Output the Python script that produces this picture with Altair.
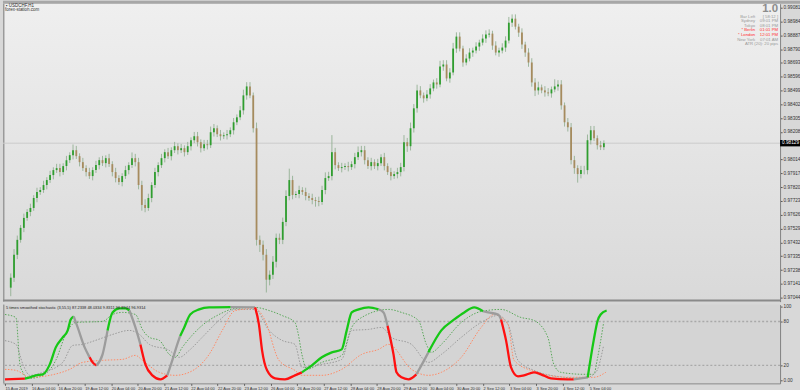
import json
import altair as alt
import pandas as pd

# ---------------- price data (2-hour candles, USDCHF) ----------------
first_open = 0.97114
close = [
    0.97184, 0.97345, 0.97450, 0.97534, 0.97604, 0.97646, 0.97674, 0.97744, 0.97786, 0.97800,
    0.97835, 0.97870, 0.97905, 0.97940, 0.97954, 0.97926, 0.97968, 0.98010, 0.98045, 0.98080,
    0.98038, 0.97996, 0.97954, 0.97926, 0.97898, 0.97940, 0.97975, 0.98010, 0.97989, 0.98024,
    0.97982, 0.97926, 0.97884, 0.97856, 0.97898, 0.97940, 0.97975, 0.98024, 0.97996, 0.97835,
    0.97695, 0.97674, 0.97744, 0.97835, 0.97926, 0.97975, 0.98024, 0.98066, 0.98038, 0.98080,
    0.98108, 0.98080, 0.98094, 0.98066, 0.98108, 0.98150, 0.98178, 0.98136, 0.98094, 0.98122,
    0.98115, 0.98206, 0.98234, 0.98192, 0.98178, 0.98185, 0.98192, 0.98220, 0.98276, 0.98311,
    0.98360, 0.98465, 0.98528, 0.98465, 0.98234, 0.97450, 0.97415, 0.97345, 0.97170, 0.97205,
    0.97296, 0.97464, 0.97450, 0.97576, 0.97758, 0.97870, 0.97765, 0.97772, 0.97800, 0.97786,
    0.97758, 0.97744, 0.97730, 0.97723, 0.97716, 0.97800, 0.97884, 0.97898, 0.98066, 0.97975,
    0.97954, 0.97961, 0.97968, 0.97961, 0.97982, 0.98031, 0.98066, 0.98080, 0.98010, 0.97968,
    0.97996, 0.97968, 0.97989, 0.98031, 0.97968, 0.97926, 0.97898, 0.97912, 0.97926, 0.97961,
    0.98136, 0.98108, 0.98234, 0.98374, 0.98500, 0.98465, 0.98444, 0.98472, 0.98514, 0.98556,
    0.98542, 0.98668, 0.98682, 0.98584, 0.98626, 0.98794, 0.98878, 0.98794, 0.98696, 0.98724,
    0.98766, 0.98780, 0.98808, 0.98836, 0.98864, 0.98892, 0.98899, 0.98815, 0.98766, 0.98780,
    0.98801, 0.98850, 0.98976, 0.99004, 0.98948, 0.98906, 0.98822, 0.98766, 0.98696, 0.98556,
    0.98500, 0.98521, 0.98500, 0.98486, 0.98479, 0.98507, 0.98528, 0.98542, 0.98395, 0.98276,
    0.98241, 0.98010, 0.97954, 0.97912, 0.97940, 0.97940, 0.98150, 0.98220, 0.98164, 0.98115,
    0.98101, 0.98129,
]
upper_wick_pips = [
    3, 4, 3, 2, 3, 2, 3, 2, 3, 2,
    3, 2, 3, 2, 3, 3, 2, 3, 2, 4,
    3, 2, 3, 2, 3, 2, 3, 2, 3, 2,
    3, 2, 3, 2, 2, 3, 2, 4, 3, 3,
    3, 4, 3, 2, 3, 2, 3, 2, 3, 2,
    3, 2, 3, 2, 3, 2, 3, 3, 2, 3,
    3, 4, 3, 2, 3, 2, 3, 2, 3, 2,
    3, 4, 3, 3, 2, 4, 3, 3, 4, 3,
    4, 3, 3, 3, 4, 8, 3, 2, 3, 2,
    3, 2, 3, 2, 3, 3, 4, 3, 12, 3,
    2, 3, 2, 3, 2, 3, 4, 3, 3, 2,
    3, 2, 3, 2, 3, 2, 3, 2, 3, 3,
    5, 3, 4, 3, 4, 3, 2, 3, 3, 2,
    3, 4, 3, 3, 3, 4, 3, 3, 2, 3,
    3, 2, 3, 2, 3, 3, 3, 2, 3, 2,
    3, 3, 4, 3, 3, 2, 3, 2, 3, 3,
    3, 4, 2, 3, 3, 2, 5, 3, 3, 2,
    3, 3, 3, 2, 3, 3, 4, 3, 3, 2,
    3, 2,
]
lower_wick_pips = [
    6, 3, 3, 2, 3, 2, 3, 2, 3, 2,
    2, 3, 2, 3, 2, 3, 2, 3, 2, 3,
    2, 3, 2, 3, 2, 3, 2, 3, 2, 3,
    2, 3, 3, 2, 3, 2, 3, 2, 3, 3,
    4, 3, 2, 3, 2, 3, 2, 3, 2, 3,
    2, 3, 2, 3, 2, 3, 2, 3, 3, 2,
    3, 2, 3, 2, 3, 2, 3, 2, 3, 2,
    2, 3, 3, 2, 3, 4, 5, 4, 9, 4,
    3, 4, 3, 3, 3, 3, 3, 2, 3, 2,
    3, 2, 3, 4, 3, 2, 3, 2, 3, 3,
    2, 3, 2, 3, 2, 3, 2, 3, 3, 2,
    3, 2, 3, 2, 3, 2, 3, 2, 3, 3,
    3, 4, 3, 3, 3, 2, 3, 2, 3, 2,
    3, 2, 3, 2, 3, 2, 3, 2, 3, 2,
    2, 3, 2, 3, 2, 3, 2, 3, 2, 3,
    2, 3, 2, 3, 2, 3, 3, 3, 3, 3,
    4, 3, 2, 3, 2, 3, 2, 3, 3, 3,
    3, 3, 4, 6, 3, 3, 3, 3, 2, 3,
    2, 2,
]
price_ticks = [0.99081, 0.98984, 0.98887, 0.98790, 0.98693, 0.98596, 0.98499, 0.98402,
               0.98305, 0.98208, 0.98014, 0.97917, 0.97820, 0.97723, 0.97626,
               0.97529, 0.97432, 0.97335, 0.97238, 0.97141, 0.97044]
date_labels = ["15 Aug 2019", "16 Aug 04:00", "16 Aug 20:00", "19 Aug 12:00", "20 Aug 04:00",
               "20 Aug 20:00", "21 Aug 12:00", "22 Aug 04:00", "22 Aug 20:00", "23 Aug 12:00",
               "26 Aug 04:00", "26 Aug 20:00", "27 Aug 12:00", "28 Aug 04:00", "28 Aug 20:00",
               "29 Aug 12:00", "30 Aug 04:00", "30 Aug 20:00", "2 Sep 12:00", "3 Sep 04:00",
               "3 Sep 20:00", "4 Sep 12:00", "5 Sep 04:00"]

# ---------------- indicator data (H1 bar index, 0..100) ----------------
main_bar = [0, 12, 15, 18.6, 22.8, 27, 30.6, 34.8, 37.8, 39.6, 41.4, 43.8, 48, 51, 52.8, 55.2,
            58.8, 61.8, 64.8, 69, 72.6, 75, 78.6, 81.6, 84.6, 88.8, 93.6, 97.8, 100.8, 103.8,
            105.5, 108, 111.6, 117, 123, 136, 150.7, 153, 154.9, 157.9, 162.7, 168.7, 174.7,
            178.9, 184.9, 190.9, 196.9, 202.9, 205.9, 208.9, 213.1, 219.1, 225.1, 228.1, 230.5,
            234.1, 235.9, 238.9, 243.1, 247.9, 250.9, 255.1, 262.9, 270.7, 276.7, 282.7, 288,
            291.1, 297.1, 298.9, 301.9, 304.9, 309.1, 312.7, 318.7, 322.9, 328.9, 339.1, 342.7,
            351.1, 354.7, 357.1, 358.9, 362.5]
main_val = [1, 2, 3.7, 6.4, 7.8, 21.4, 44.6, 58.3, 67.8, 82.8, 86.9, 71.9, 44.6, 31, 24.1, 20,
            35, 67.8, 92.4, 97.8, 97.8, 95, 71.9, 48.7, 21.4, 6.4, 1, 6.4, 26.9, 48.7,
            60, 71.9, 89.6, 96.5, 99.2, 99.5, 99.2, 76, 40.5, 13.2, 2.3, 1, 6.4,
            10.5, 20, 31, 37.8, 41.9, 67.8, 92.4, 96.5, 99.2, 96.5, 92.4, 74,
            35, 10.5, 3.7, 1, 7.8, 20, 37.8, 67.8, 82.8, 92.4, 99.2, 94,
            92.4, 89.6, 82.8, 54.2, 17.3, 5, 6.4, 10.5, 7.8, 2.3, 1, 1,
            3.7, 54.2, 81.4, 89.6, 95]
main_state = list("rgggggggggnnnrrnnggggnnrrrrnnngggggnrrrrrrrgggggggggnnrrrrrnngggggnnnrrrrrrrrrnggggg")

gd_bar = [0, 6.6, 9, 10.8, 12.6, 15, 22.8, 30.6, 36.6, 42.6, 58.8, 64.8, 70.8, 78.6, 82.8, 87, 93,
          99, 102.6, 106.8, 118.8, 129, 138.7, 150.7, 159.1, 166.9, 174.7, 176.5, 178.9, 181.9,
          190.9, 202.9, 208.9, 214.9, 231.1, 238.9, 249.1, 253.9, 256.9, 262.9, 274.9, 286.9,
          298.9, 310.9, 318.7, 327.1, 330.7, 334.9, 348.7, 354.7, 357.1, 360.7]
gd_val = [89.6, 85.5, 21.4, 10.5, 3.7, 2.3, 6.4, 26.9, 62.3, 78.7, 80.1, 89.6, 92.4, 89.6, 69.2,
          58.3, 54.2, 35, 31, 44.6, 74.6, 89.6, 97.8, 99.2, 95, 88.2, 78.7, 65, 35, 14.6,
          24.1, 33.7, 71.9, 85.5, 96.5, 92.4, 81.4, 48.7, 37.8, 48.7, 78.7, 93.7,
          96.5, 85.5, 81.4, 58.3, 21.4, 10.5, 7.8, 7.8, 31, 78.7]
gy_bar = [0, 6.6, 10.8, 15, 22.8, 34.8, 40.8, 46.8, 54.6, 64.8, 75, 81, 87, 99, 105, 111, 118.8,
          129, 138.7, 150.7, 159.1, 166.9, 174.7, 178.9, 190.9, 202.9, 208.9, 219.1, 226.9, 232.9,
          244.9, 255.1, 262.9, 274.9, 286.9, 297.1, 303.1, 309.1, 318.7, 328.9, 348.7, 356, 360.7]
gy_val = [53.8, 48.7, 21.4, 6.4, 10.5, 24.1, 47.3, 48.7, 54.2, 62.3, 67.8, 62.3, 48.7, 40.5, 31,
          40.5, 58.3, 81.4, 96.5, 96.5, 67.8, 54.2, 48.7, 17.3, 21.4, 28.2, 67.8, 69.2, 71.9, 58.3,
          48.7, 24.1, 35, 58.3, 78.7, 88.2, 76, 26.9, 13.2, 6.4, 2.3, 10.5, 47.3]
od_bar = [0, 6.6, 15, 27, 39, 46.8, 58.8, 70.8, 78.6, 82.8, 93, 102.6, 111, 123, 130.9, 138.7,
          150.7, 156.7, 165.1, 174.7, 178.9, 190.9, 202.9, 214.9, 225.1, 231.1, 244.9, 255.1,
          262.9, 274.9, 286.9, 294.7, 303.1, 306.7, 318.7, 339.1, 354.7, 362]
od_val = [14.6, 13.2, 3.7, 6.4, 14.6, 24.1, 26.9, 28.2, 33.7, 26.9, 10.5, 6.4, 10.5, 35, 67.8, 95,
          97.8, 81.4, 26.9, 13.2, 6.4, 6.4, 14.6, 35, 41.9, 48.7, 14.6, 6.4,
          10.5, 31, 71.9, 89.6, 76, 26.9, 11.9, 3.7, 3.7, 10.5]
level_values = [20, 80]
indicator_title = "5 times smoothed stochastic (3,55,5) 87.2338 48.0334 9.8311 96.8944 96.9314"

# ---------------- styling ----------------
FONT = "Liberation Sans"
UP, DOWN, WICK = "#2f9e2f", "#a68b5e", "#8fae8f"
STATE_COL = {"g": "#16c816", "r": "#ff1010", "n": "#9c9c9c"}
W, H1, H2 = 780, 299, 79

# ---------------- build tables ----------------
opens = [first_open] + close[:-1]
rows = []
for k, c in enumerate(close):
    o = opens[k]
    rows.append({"bar": 2 * k + 0.5, "open": o, "close": c,
                 "high": max(o, c) + upper_wick_pips[k] * 0.0001,
                 "low": min(o, c) - lower_wick_pips[k] * 0.0001,
                 "col": UP if c >= o else DOWN})
candles = pd.DataFrame(rows)
last = pd.DataFrame({"p": [close[-1]], "lbl": [f"{close[-1]:.5f}"]})

mrows = []
seg = 0
for i, (b, v, s) in enumerate(zip(main_bar, main_val, main_state)):
    if i > 0 and s != main_state[i - 1]:
        mrows.append({"bar": b, "v": v, "seg": seg, "c": STATE_COL[main_state[i - 1]]})
        seg += 1
    mrows.append({"bar": b, "v": v, "seg": seg, "c": STATE_COL[s]})
mainline = pd.DataFrame(mrows)

drows = []
for name, col, bars, vals in [("green", "#5aa85a", gd_bar, gd_val),
                              ("gray", "#9a9a9a", gy_bar, gy_val),
                              ("orange", "#ff8a65", od_bar, od_val)]:
    for b, v in zip(bars, vals):
        drows.append({"s": name, "c": col, "bar": b, "v": v})
dots = pd.DataFrame(drows)
levels = pd.DataFrame({"v": level_values})
one = pd.DataFrame({"a": [0]})

# ---------------- scales / axes ----------------
xs = alt.Scale(domain=[-1.2, 467.0], nice=False, zero=False)
ys_main = alt.Scale(domain=[0.97016, 0.99109], nice=False, zero=False)
ys_ind = alt.Scale(domain=[-4.5, 103.1], nice=False, zero=False)

axis_style = dict(title=None, grid=False, labelFont=FONT, labelColor="#333333",
                  tickColor="#555555", tickSize=2, domainColor="#7a7a7a", labelOverlap=False)
yaxis_main = alt.Axis(orient="right", values=price_ticks, format=".5f", labelPadding=1,
                      labelFontSize=4.7, minExtent=20, maxExtent=20, **axis_style)
yaxis_ind = alt.Axis(orient="right", values=[0, 20, 80, 100], labelPadding=1, labelFontSize=4.7,
                     labelExpr="datum.value == 0 ? '0.00' : datum.label",
                     minExtent=20, maxExtent=20, **axis_style)
xaxis_ind = alt.Axis(orient="bottom", values=list(range(0, 16 * len(date_labels), 16)),
                     labelExpr=json.dumps(date_labels) + "[round(datum.value / 16)]",
                     labelAlign="left", labelBaseline="top", labelPadding=1, labelFlush=False,
                     labelFontSize=4.0, minExtent=9, maxExtent=9, **axis_style)

# ---------------- main price panel ----------------
grad = alt.Gradient(gradient="linear", x1=0, x2=0, y1=0, y2=1,
                    stops=[alt.GradientStop(color="#efefef", offset=0),
                           alt.GradientStop(color="#d9d9d9", offset=1)])
bg = alt.Chart(one).mark_rect(fill=grad).encode(
    x=alt.value(0), x2=alt.value(W), y=alt.value(0), y2=alt.value(H1))
strip = alt.Chart(one).mark_rect(color="#a7a7a7").encode(
    x=alt.value(0), x2=alt.value(800), y=alt.value(-3), y2=alt.value(0))
lborder = alt.Chart(one).mark_rule(color="#9a9a9a", strokeWidth=1.5).encode(
    x=alt.value(0.75), y=alt.value(0), y2=alt.value(H1))
sep = alt.Chart(one).mark_rect(color="#8a8a8a").encode(
    x=alt.value(0), x2=alt.value(W), y=alt.value(H1 - 2), y2=alt.value(H1))
price_line = alt.Chart(last).mark_rule(color="#cbcbcb", strokeWidth=1).encode(
    y=alt.Y("p:Q", scale=ys_main, axis=yaxis_main))
wicks = alt.Chart(candles).mark_rule(color=WICK, strokeWidth=1, opacity=0.85).encode(
    x=alt.X("bar:Q", scale=xs, axis=None),
    y=alt.Y("low:Q", scale=ys_main, axis=yaxis_main), y2="high:Q")
bodies = alt.Chart(candles).mark_bar(size=1.8).encode(
    x=alt.X("bar:Q", scale=xs, axis=None),
    y=alt.Y("open:Q", scale=ys_main, axis=yaxis_main), y2="close:Q",
    color=alt.Color("col:N", scale=None))
box = alt.Chart(last).mark_point(shape="M-1,-0.32L1,-0.32L1,0.32L-1,0.32Z", size=400,
                                 filled=True, color="#000000", opacity=1, strokeWidth=0).encode(
    x=alt.value(790), y=alt.Y("p:Q", scale=ys_main, axis=yaxis_main))
box_txt = alt.Chart(last).mark_text(color="white", font=FONT, fontSize=4.7).encode(
    x=alt.value(790.5), y=alt.Y("p:Q", scale=ys_main, axis=yaxis_main), text="lbl:N")


def label(txt, x, y, size=4.5, color="#333333", align="left", weight="normal", baseline="middle"):
    return alt.Chart(one).mark_text(text=txt, font=FONT, fontSize=size, color=color, align=align,
                                    baseline=baseline, fontWeight=weight).encode(
        x=alt.value(x), y=alt.value(y))


texts = [
    label("\u25aa USDCHF,H1", 3, 2.5),
    label("forex-station.com", 2, 6.3),
    label("1.0", 778, 8.5, size=11.5, color="#8c8c8c", align="right", weight="bold",
          baseline="alphabetic"),
]
info = [("Bar Left", "[ 58:12 ]", "#9a9a9a"), ("Sydney", "09:01 PM", "#9a9a9a"),
        ("Tokyo", "08:01 PM", "#9a9a9a"), ("* Berlin", "01:01 PM", "#ff3030"),
        ("* London", "12:01 PM", "#ff3030"), ("New York", "07:01 AM", "#9a9a9a")]
for i, (a, b, c) in enumerate(info):
    yy = 13 + i * 4.6
    texts.append(label(a, 755, yy, size=4.3, color=c, align="right"))
    texts.append(label(b, 778, yy, size=4.3, color=c, align="right"))
texts.append(label("ATR (20): 20 pips", 778, 13 + 6 * 4.6, size=4.3, color="#9a9a9a", align="right"))

main = alt.layer(bg, strip, lborder, price_line, wicks, bodies, sep, box, box_txt, *texts).properties(
    width=W, height=H1)

# ---------------- indicator panel ----------------
ibg = alt.Chart(one).mark_rect(color="#d4d4d4").encode(
    x=alt.value(0), x2=alt.value(W), y=alt.value(0), y2=alt.value(H2))
ilborder = alt.Chart(one).mark_rule(color="#9a9a9a", strokeWidth=1.5).encode(
    x=alt.value(0.75), y=alt.value(0), y2=alt.value(H2))
lv = alt.Chart(levels).mark_rule(color="#a9a9a9", strokeDash=[2, 2], strokeWidth=1.3).encode(
    y=alt.Y("v:Q", scale=ys_ind, axis=yaxis_ind))
dl = alt.Chart(dots).mark_line(strokeWidth=1, strokeDash=[1.5, 1.5], interpolate="monotone").encode(
    x=alt.X("bar:Q", scale=xs, axis=xaxis_ind),
    y=alt.Y("v:Q", scale=ys_ind, axis=yaxis_ind),
    color=alt.Color("c:N", scale=None), detail="s:N")
ml = alt.Chart(mainline).mark_line(strokeWidth=2.3, interpolate="monotone").encode(
    x=alt.X("bar:Q", scale=xs, axis=xaxis_ind),
    y=alt.Y("v:Q", scale=ys_ind, axis=yaxis_ind),
    color=alt.Color("c:N", scale=None), detail="seg:N")
ititle = label(indicator_title, 3, 3.2, size=4.0, color="#222222")
ind = alt.layer(ibg, ilborder, lv, dl, ml, ititle).properties(width=W, height=H2)

chart = alt.vconcat(main, ind, spacing=0).properties(
    padding={"left": 0, "top": 0, "right": 0, "bottom": 0}, background="#d8d8d8"
).configure_view(stroke=None)

chart.save("out.html", embed_options={"renderer": "svg", "actions": False})
